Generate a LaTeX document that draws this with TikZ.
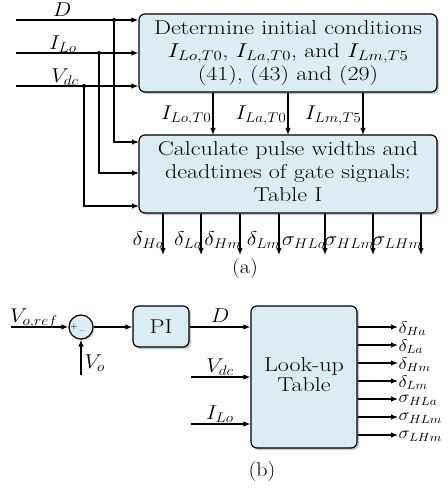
\RequirePackage{fix-cm}
\documentclass[tikz,border=0pt]{standalone}
\usetikzlibrary{arrows.meta,shadows}
\definecolor{boxfill}{RGB}{219,236,243}
\newcommand{\hs}[1]{\scalebox{1.1}[1]{#1}}
\newcommand{\hsb}[1]{\scalebox{1.2}[1]{#1}}
\newcommand{\fs}{\fontsize{20}{23}\selectfont}
\begin{document}
\begin{tikzpicture}[x=1pt,y=-1pt, line width=1.2pt,
  >={Latex[length=7pt,width=5.5pt]},
  blk/.style={draw, rounded corners=6pt, fill=boxfill,
    drop shadow={shadow xshift=2pt,shadow yshift=-2pt,opacity=0.45},
    inner sep=0pt, font=\fs},
  lab/.style={inner sep=0pt, font=\fs},
  dotn/.style={circle, fill, inner sep=0pt, minimum size=4pt}]
\useasboundingbox (0,0) rectangle (447,489);
% ---------------- (a) ----------------
\node[blk, minimum width=298pt, minimum height=78pt] (b1) at (288,53)
  {\hsb{\begin{tabular}{@{}c@{}}Determine initial conditions\\ $I_{Lo,T0}$, $I_{La,T0}$, and $I_{Lm,T5}$\\ (41), (43) and (29)\end{tabular}}};
\node[blk, minimum width=298pt, minimum height=78pt] (b2) at (288,174)
  {\hsb{\begin{tabular}{@{}c@{}}Calculate pulse widths and\\ deadtimes of gate signals:\\ Table I\end{tabular}}};
% inputs
\coordinate (inD) at (16,20);
\coordinate (inI) at (16,53);
\coordinate (inV) at (16,86);
\node[dotn] (dD) at (114,20) {};
\node[dotn] (dI) at (99,53) {};
\node[dotn] (dV) at (84,86) {};
\coordinate (tD) at (139,142);
\coordinate (tI) at (139,173);
\coordinate (tV) at (139,206);
\draw[->] (inD) -- (b1.west |- inD);
\draw[->] (inI) -- (b1.west |- inI);
\draw[->] (inV) -- (b1.west |- inV);
\draw[->] (dD.center) |- (tD);
\draw[->] (dI.center) |- (tI);
\draw[->] (dV.center) |- (tV);
\node[lab, anchor=base] (lD) at (62,16.5) {\hs{$D$}};
\node[lab, anchor=base] (lI) at (63,49.5) {\hs{$I_{Lo}$}};
\node[lab, anchor=base] (lV) at (65,82.5) {\hs{$V_{dc}$}};
% between boxes
\foreach \x/\n/\t in {213/1/{I_{Lo,T0}},288/2/{I_{La,T0}},363/3/{I_{Lm,T5}}}{
  \coordinate (m\n) at (\x,135);
  \draw[->] (b1.south -| m\n) -- (m\n);
  \node[lab, anchor=base east] (ml\n) at (\x+-1,120) {\hs{$\t$}};
}
% outputs
\foreach \x/\n/\t in {163/1/{\delta_{Ha}},201/2/{\delta_{La}},240/3/{\delta_{Hm}},279/4/{\delta_{Lm}},325/5/{\sigma_{HLa}},373/6/{\sigma_{HLm}},421/7/{\sigma_{LHm}}}{
  \coordinate (o\n) at (\x,255);
  \draw[->] (b2.south -| o\n) -- (o\n);
  \node[lab, anchor=base east] (ol\n) at (\x+2,245) {\hs{$\t$}};
}
\node[lab] (capa) at (245,269) {\hs{(a)}};
% ---------------- (b) ----------------
\node[circle, draw, fill=boxfill, minimum size=24pt, inner sep=0pt,
  drop shadow={shadow xshift=1.5pt,shadow yshift=-1.5pt,opacity=0.45}] (sum) at (81,327) {};
\node[inner sep=0pt, font=\fontsize{10}{10}\selectfont] (plus) at (74,326.5) {+};
\node[inner sep=0pt, font=\fontsize{10}{10}\selectfont] (minus) at (82,332) {--};
\coordinate (vref) at (11,327);
\coordinate (vo) at (81,375);
\draw[->] (vref) -- (sum.west);
\draw[->] (vo) -- (sum.south);
\node[lab, anchor=base] (lvref) at (34,322) {\hs{$V_{o,ref}$}};
\node[lab, anchor=base west] (lvo) at (84,368) {\hs{$V_o$}};
\node[blk, minimum width=56pt, minimum height=41pt] (pi) at (161,326.5) {\hsb{PI}};
\draw[->] (sum.east) -- (pi.west |- sum.east);
\node[blk, minimum width=106pt, minimum height=142pt] (lut) at (304,377)
  {\hsb{\begin{tabular}{@{}c@{}}Look-up\\[-3pt] Table\end{tabular}}};
\draw[->] (pi.east |- 0,327) -- (lut.west |- 0,327);
\coordinate (vdcin) at (191,377);
\coordinate (iloin) at (191,424);
\draw[->] (vdcin) -- (lut.west |- vdcin);
\draw[->] (iloin) -- (lut.west |- iloin);
\node[lab, anchor=base] (lbD) at (220,322) {\hs{$D$}};
\node[lab, anchor=base] (lbV) at (220,372) {\hs{$V_{dc}$}};
\node[lab, anchor=base] (lbI) at (220,419) {\hs{$I_{Lo}$}};
\foreach \i/\t in {0/{\delta_{Ha}},1/{\delta_{La}},2/{\delta_{Hm}},3/{\delta_{Lm}},4/{\sigma_{HLa}},5/{\sigma_{HLm}},6/{\sigma_{LHm}}}{
  \coordinate (p\i) at (398,327+18*\i);
  \draw[->] (lut.east |- p\i) -- (p\i);
  \node[lab, anchor=west, font=\fontsize{17}{17}\selectfont] (pl\i) at ([yshift=-1.5pt]p\i) {\hs{$\t$}};
}
\node[lab] (capb) at (262,472) {\hs{(b)}};
\end{tikzpicture}
\end{document}
